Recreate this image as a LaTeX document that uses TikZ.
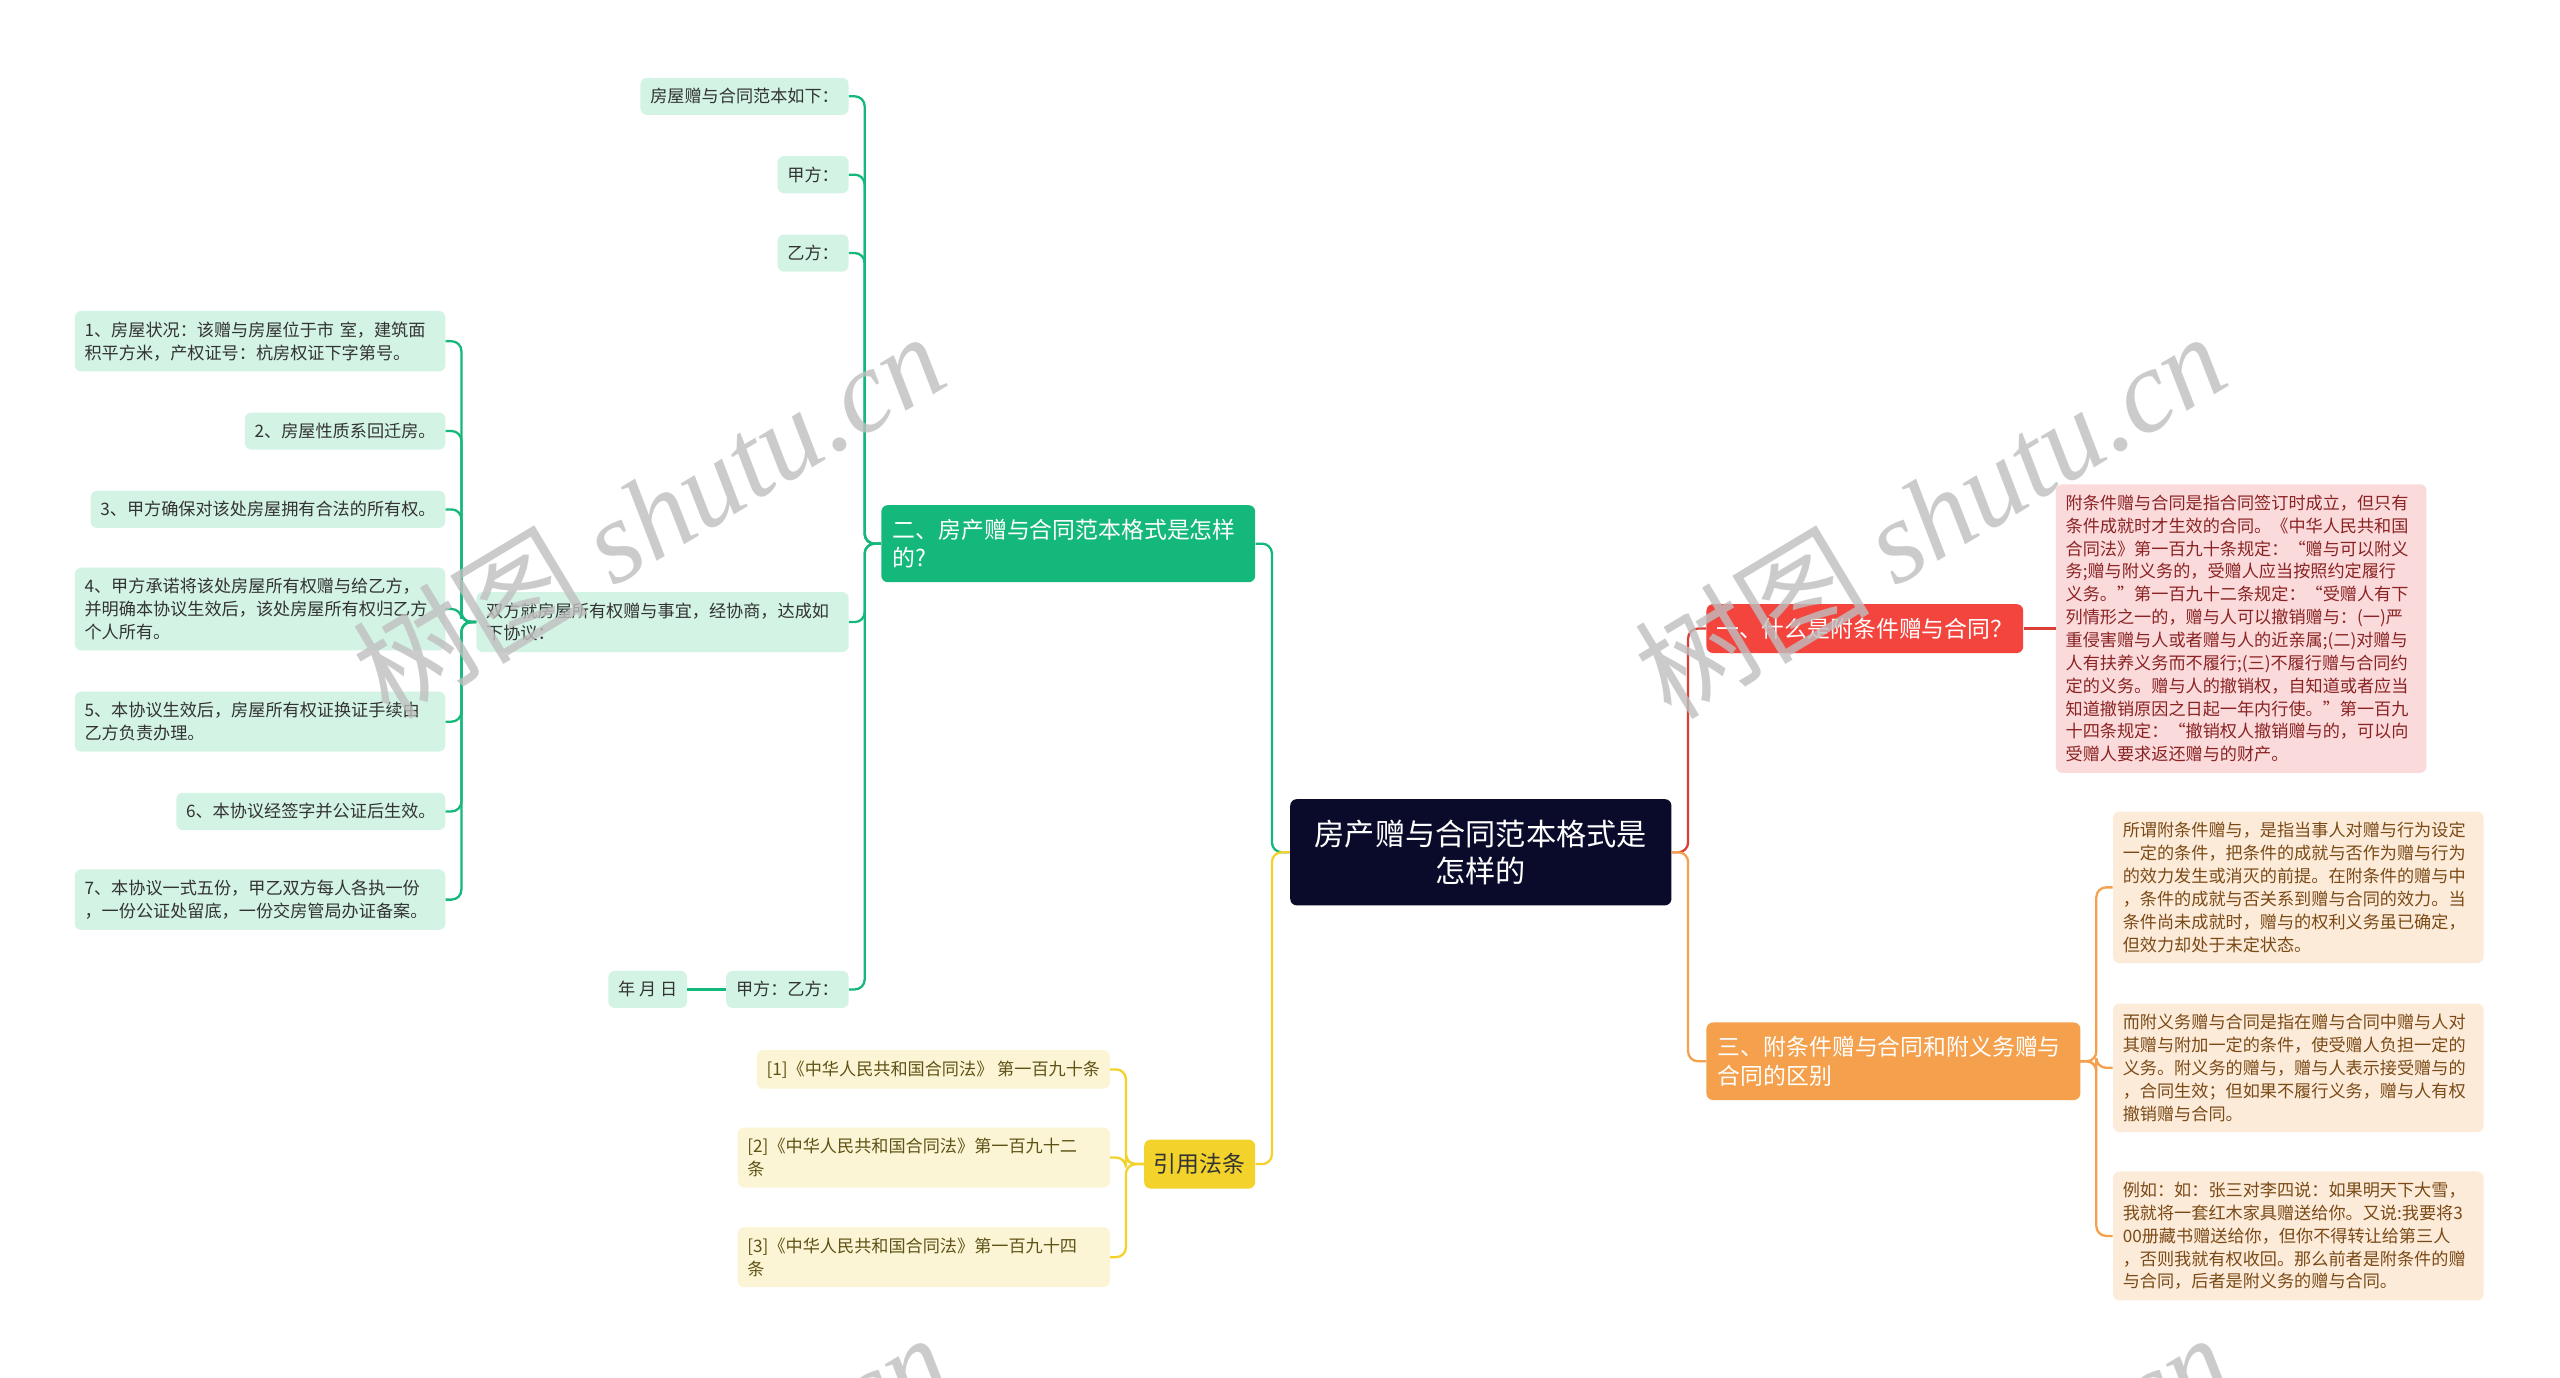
\documentclass[tikz,border=0pt]{standalone}
\usepackage{fontspec}
\setmainfont{Noto Sans CJK SC}
\newfontfamily\wmfont{Liberation Serif}
\definecolor{rootc}{HTML}{0A0B2B}
\definecolor{grn}{HTML}{15B87B}
\definecolor{grnl}{HTML}{D3F3E5}
\definecolor{redb}{HTML}{F3453D}
\definecolor{redl}{HTML}{FBDADB}
\definecolor{redt}{HTML}{8A2323}
\definecolor{org}{HTML}{F4A04C}
\definecolor{orgl}{HTML}{FDEBDA}
\definecolor{orgt}{HTML}{7A4A16}
\definecolor{yel}{HTML}{F2D22B}
\definecolor{yell}{HTML}{FCF5D5}
\definecolor{yelt}{HTML}{5E5216}
\begin{document}
\begin{tikzpicture}[x=1pt,y=-1pt,
  leaf/.style={rounded corners=4pt, inner xsep=6pt, inner ysep=6.5pt, align=left, font=\fontsize{10.5}{14}\selectfont},
  gleaf/.style={leaf, fill=grnl, text=black!80},
  yleaf/.style={leaf, fill=yell, text=yelt},
  rleaf/.style={leaf, fill=redl, text=redt},
  oleaf/.style={leaf, fill=orgl, text=orgt},
  wrapbox/.style={text width=215pt},
  linebox/.style={},
  branch/.style={rounded corners=4pt, inner xsep=7pt, inner ysep=8.5pt, align=left, font=\fontsize{14}{17.5}\selectfont},
  link/.style={line width=1.4pt, rounded corners=6pt},
  wm/.style={text=black!25, opacity=0.8, rotate=31, font=\fontsize{72}{72}\selectfont}
]
\useasboundingbox[fill=white] (0,0) rectangle (1568,844);

% centre
\node[fill=rootc, text=white, rounded corners=4pt, inner xsep=15pt, inner ysep=12.5pt, align=center, font=\fontsize{18.5}{23}\selectfont] (root) at (907,522) {房产赠与合同范本格式是\\怎样的};

% left: green branch
\node[branch, fill=grn, text=white, text width=215pt, anchor=east] (g) at (769,333) {二、房产赠与合同范本格式是怎样\\的?};
\node[gleaf, anchor=east] (g1) at (520,59) {房屋赠与合同范本如下：};
\node[gleaf, anchor=east] (g2) at (520,107) {甲方：};
\node[gleaf, anchor=east] (g3) at (520,155) {乙方：};
\node[gleaf, text width=216pt, anchor=east] (d) at (520,381) {双方就房屋所有权赠与事宜，经协商，达成如\\下协议：};
\node[gleaf, anchor=east] (g5) at (520,606) {甲方：乙方：};
\node[gleaf, anchor=east] (g6) at (421,606) {年 月 日};
\draw[link, grn] (root.west) -- ++(-11,0) |- (g.east);
\foreach \n in {g1,g2,g3,d,g5}
  \draw[link, grn] (g.west) -- ++(-10,0) |- (\n.east);
\draw[link, grn] (g5.west) -- (g6.east);

\foreach \n/\y/\s/\t in {
  1/209/wrapbox/{1、房屋状况：该赠与房屋位于市 室，建筑面\\积平方米，产权证号：杭房权证下字第号。},
  2/264/linebox/{2、房屋性质系回迁房。},
  3/312/linebox/{3、甲方确保对该处房屋拥有合法的所有权。},
  4/373/wrapbox/{4、甲方承诺将该处房屋所有权赠与给乙方，\\并明确本协议生效后，该处房屋所有权归乙方\\个人所有。},
  5/442/wrapbox/{5、本协议生效后，房屋所有权证换证手续由\\乙方负责办理。},
  6/497/linebox/{6、本协议经签字并公证后生效。},
  7/551/wrapbox/{7、本协议一式五份，甲乙双方每人各执一份\\，一份公证处留底，一份交房管局办证备案。}}{
  \node[gleaf, \s, anchor=east] (s\n) at (273,\y) {\t};
  \draw[link, grn] (d.west) -- ++(-9,0) |- (s\n.east);
}

% left: yellow branch
\node[branch, fill=yel, text=black!80, inner xsep=6pt, anchor=east] (law) at (769,713) {引用法条};
\node[yleaf, anchor=east] (y1) at (680,655) {[1]《中华人民共和国合同法》 第一百九十条};
\node[yleaf, text width=216pt, anchor=east] (y2) at (680,709) {[2]《中华人民共和国合同法》第一百九十二\\条};
\node[yleaf, text width=216pt, anchor=east] (y3) at (680,770) {[3]《中华人民共和国合同法》第一百九十四\\条};
\draw[link, yel] (root.west) -- ++(-11,0) |- (law.east);
\foreach \n in {y1,y2,y3}
  \draw[link, yel] (law.west) -- ++(-11,0) |- (\n.east);

% right: red branch
\node[branch, fill=redb, text=white, inner xsep=6pt, anchor=west] (r) at (1045,385) {一、什么是附条件赠与合同？};
\node[rleaf, wrapbox, anchor=west] (r1) at (1259,385) {附条件赠与合同是指合同签订时成立，但只有\\条件成就时才生效的合同。《中华人民共和国\\合同法》第一百九十条规定：“赠与可以附义\\务;赠与附义务的，受赠人应当按照约定履行\\义务。”第一百九十二条规定：“受赠人有下\\列情形之一的，赠与人可以撤销赠与：(一)严\\重侵害赠与人或者赠与人的近亲属;(二)对赠与\\人有扶养义务而不履行;(三)不履行赠与合同约\\定的义务。赠与人的撤销权，自知道或者应当\\知道撤销原因之日起一年内行使。”第一百九\\十四条规定：“撤销权人撤销赠与的，可以向\\受赠人要求返还赠与的财产。};
\draw[link, redb!90!black] (root.east) -- ++(10,0) |- (r.west);
\draw[link, redb!90!black] (r.east) -- (r1.west);

% right: orange branch
\node[branch, fill=org, text=white, text width=215pt, anchor=west] (o) at (1045,650) {三、附条件赠与合同和附义务赠与\\合同的区别};
\node[oleaf, wrapbox, anchor=west] (o1) at (1294,543.5) {所谓附条件赠与，是指当事人对赠与行为设定\\一定的条件，把条件的成就与否作为赠与行为\\的效力发生或消灭的前提。在附条件的赠与中\\，条件的成就与否关系到赠与合同的效力。当\\条件尚未成就时，赠与的权利义务虽已确定，\\但效力却处于未定状态。};
\node[oleaf, wrapbox, anchor=west] (o2) at (1294,654) {而附义务赠与合同是指在赠与合同中赠与人对\\其赠与附加一定的条件，使受赠人负担一定的\\义务。附义务的赠与，赠与人表示接受赠与的\\，合同生效；但如果不履行义务，赠与人有权\\撤销赠与合同。};
\node[oleaf, wrapbox, anchor=west] (o3) at (1294,757) {例如：如：张三对李四说：如果明天下大雪，\\我就将一套红木家具赠送给你。又说:我要将3\\00册藏书赠送给你，但你不得转让给第三人\\，否则我就有权收回。那么前者是附条件的赠\\与合同，后者是附义务的赠与合同。};
\draw[link, org] (root.east) -- ++(10,0) |- (o.west);
\foreach \n in {o1,o2,o3}
  \draw[link, org] (o.west) ++(229,0) -- ++(10,0) |- (\n.west);

% watermark
\foreach \x/\y in {397/315, 1182/315, 400/928, 1185/928}
  \node[wm] at (\x,\y) {树图 {\wmfont\itshape shutu.cn}};
\end{tikzpicture}
\end{document}
